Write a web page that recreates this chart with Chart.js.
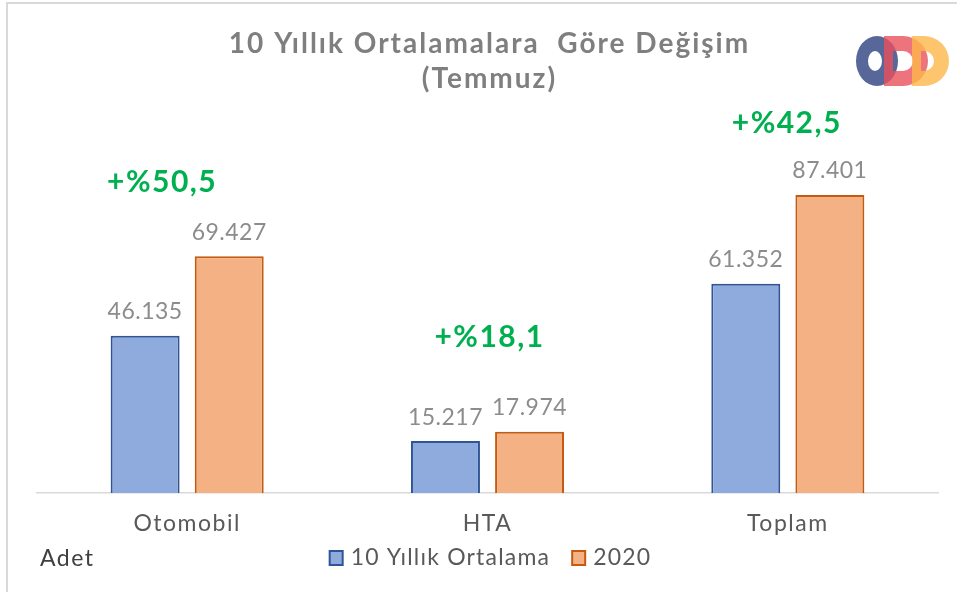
<!DOCTYPE html>
<html>
<head>
<meta charset="utf-8">
<script src="https://cdn.jsdelivr.net/npm/chart.js@4"></script>
<style>
   body { margin: 0; background: #fff; }
   canvas { display: block; }
</style>
</head>
<body>
<canvas id="myChart" width="958" height="592"></canvas>
<script>
const categories = ['Otomobil', 'HTA', 'Toplam'];
const seriesNames = ['10 Yıllık Ortalama', '2020'];
const avg10Values = [46135, 15217, 61352];
const values2020 = [69427, 17974, 87401];
const changeLabels = ['+%50,5', '+%18,1', '+%42,5'];
const titleLines = ['10 Yıllık Ortalamalara  Göre Değişim', '(Temmuz)'];
const unitLabel = 'Adet';

const FONT = "Lato, 'Open Sans', sans-serif";

const formatNumber = (v) => String(v).replace(/\B(?=(\d{3})+(?!\d))/g, '.');

// card frame, title + logo
const framePlugin = {
   id: 'frame',
   beforeDraw: (chart) => {
      const c = chart.ctx;
      c.save();
      c.fillStyle = '#fff';
      c.fillRect(0, 0, chart.width, chart.height);
      c.strokeStyle = '#d9d9d9';
      c.lineWidth = 2;
      c.beginPath();
      c.moveTo(7, 592);
      c.lineTo(7, 3);
      c.lineTo(957, 3);
      c.stroke();

      const cx = (chart.chartArea.left + chart.chartArea.right) / 2 + 2;
      c.font = `bold 28px ${FONT}`;
      c.letterSpacing = '2px';
      c.fillStyle = '#7f7f7f';
      c.textAlign = 'center';
      c.textBaseline = 'middle';
      titleLines.forEach((line, i) => c.fillText(line, cx, 44 + i * 35));
      c.restore();
      // wider letters for the axis labels drawn by the library
      c.letterSpacing = '1.5px';
   },
   afterDraw: (chart) => {
      const c = chart.ctx;
      c.save();
      c.letterSpacing = '0px';
      const top = 36, bottom = 86;
      c.globalAlpha = 0.9;
      c.fillStyle = '#45568f';
      c.beginPath();
      c.ellipse(877, 61, 21, 25, 0, 0, Math.PI * 2);
      c.ellipse(875, 61, 7, 10, 0, 0, Math.PI * 2);
      c.fill('evenodd');
      const drawD = (x0, x1, color) => {
         const r = (bottom - top) / 2;
         const cy = top + r;
         c.fillStyle = color;
         c.beginPath();
         c.moveTo(x0, top);
         c.lineTo(x1 - r, top);
         c.arc(x1 - r, cy, r, -Math.PI / 2, Math.PI / 2);
         c.lineTo(x0, bottom);
         c.closePath();
         c.moveTo(x0 + 9, top + 15);
         c.lineTo(x0 + 9, bottom - 15);
         c.lineTo(x1 - r, bottom - 15);
         c.arc(x1 - r, cy, r - 15, Math.PI / 2, -Math.PI / 2, true);
         c.closePath();
         c.fill('evenodd');
      };
      c.globalAlpha = 0.8;
      drawD(884, 928, '#e8505b');
      drawD(912, 949, '#fdb64a');
      c.restore();
   }
};

const labelsPlugin = {
   id: 'valueLabels',
   afterDatasetsDraw: (chart) => {
      const c = chart.ctx;
      c.save();
      c.textAlign = 'center';
      c.textBaseline = 'middle';
      c.font = `23px ${FONT}`;
      c.letterSpacing = '0.5px';
      c.fillStyle = '#8c8c8c';
      chart.data.datasets.forEach((ds, di) => {
         const meta = chart.getDatasetMeta(di);
         meta.data.forEach((bar, i) => {
            c.fillText(formatNumber(ds.data[i]), bar.x, bar.y - 24);
         });
      });

      // change percentage labels
      const offsets = [[-25, -74], [2, -94], [-1, -72]];
      const xScale = chart.scales.x;
      const topMeta = chart.getDatasetMeta(1);
      c.font = `bold 30px ${FONT}`;
      c.letterSpacing = '1.5px';
      c.fillStyle = '#00b050';
      changeLabels.forEach((txt, i) => {
         const x = xScale.getPixelForValue(i) + offsets[i][0];
         const y = topMeta.data[i].y + offsets[i][1];
         c.fillText(txt, x, y);
      });

      // unit + legend row
      c.font = `23px ${FONT}`;
      c.letterSpacing = '1.5px';
      c.textAlign = 'left';
      c.fillStyle = '#404040';
      c.fillText(unitLabel, 40, 559);

      c.letterSpacing = '1.2px';
      const rowY = 558, box = 13, boxGap = 8, itemGap = 22;
      const widths = chart.data.datasets.map((ds) => box + boxGap + c.measureText(ds.label).width);
      const total = widths.reduce((a, b) => a + b, 0) + itemGap * (widths.length - 1);
      let x = (chart.chartArea.left + chart.chartArea.right) / 2 + 3 - total / 2;
      chart.data.datasets.forEach((ds, i) => {
         c.fillStyle = ds.backgroundColor;
         c.strokeStyle = ds.borderColor;
         c.lineWidth = 2;
         c.fillRect(x, rowY - 7, box, 14);
         c.strokeRect(x, rowY - 7, box, 14);
         c.fillStyle = '#595959';
         c.fillText(ds.label, x + box + boxGap, rowY);
         x += widths[i] + itemGap;
      });
      c.restore();
   }
};

const ctx = document.getElementById('myChart').getContext('2d');
const myChart = new Chart(ctx, {
   type: 'bar',
   data: {
      labels: categories,
      datasets: [
         {
            label: seriesNames[0],
            data: avg10Values,
            backgroundColor: '#8faadc',
            borderColor: '#2f5597',
            borderWidth: 2,
         },
         {
            label: seriesNames[1],
            data: values2020,
            backgroundColor: '#f4b183',
            borderColor: '#c55a11',
            borderWidth: 2,
         }
      ]
   },
   options: {
      responsive: false,
      animation: false,
      categoryPercentage: 0.56,
      barPercentage: 0.82,
      layout: {
         padding: { left: 37, right: 20, top: 152, bottom: 0 }
      },
      plugins: {
         legend: { display: false },
         tooltip: { enabled: false }
      },
      scales: {
         x: {
            grid: { display: false, drawTicks: false },
            border: { color: '#d9d9d9', width: 1.5 },
            ticks: {
               color: '#595959',
               font: { family: FONT, size: 23 },
               padding: 17
            },
            afterFit: (scale) => { scale.height = 99; }
         },
         y: {
            display: false,
            min: 0,
            max: 100000
         }
      }
   },
   plugins: [framePlugin, labelsPlugin]
});
</script>
</body>
</html>
